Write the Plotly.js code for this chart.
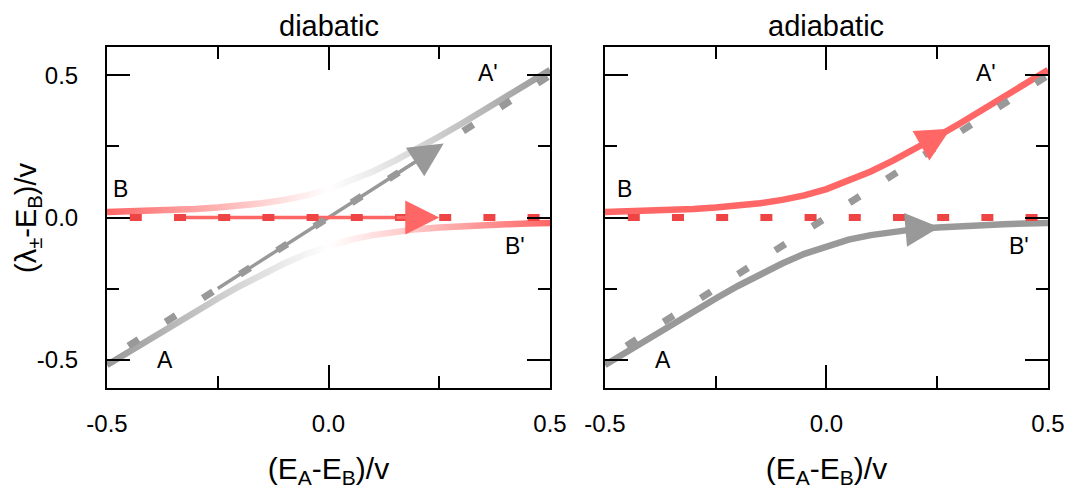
<!DOCTYPE html>
<html>
<head>
<meta charset="utf-8">
<script src="https://cdn.plot.ly/plotly-3.0.1.min.js"></script>
<style>
  html, body { margin: 0; padding: 0; background: #fff; }
  #chart { width: 1071px; height: 495px; }
</style>
</head>
<body>
<div id="chart"></div>
<script>
// Detuning (E_A - E_B)/v
const detuning = [-0.5, -0.45, -0.4, -0.35, -0.3, -0.25, -0.2, -0.15, -0.1, -0.05, 0,
                  0.05, 0.1, 0.15, 0.2, 0.25, 0.3, 0.35, 0.4, 0.45, 0.5];
// Adiabatic levels (λ± - E_B)/v
const upperLevel = [0.019, 0.021, 0.024, 0.027, 0.030, 0.035, 0.041, 0.050, 0.062, 0.078, 0.100,
                    0.128, 0.162, 0.200, 0.241, 0.285, 0.330, 0.377, 0.424, 0.471, 0.519];
const lowerLevel = [-0.519, -0.471, -0.424, -0.377, -0.330, -0.285, -0.241, -0.200, -0.162, -0.128, -0.100,
                    -0.078, -0.062, -0.050, -0.041, -0.035, -0.030, -0.027, -0.024, -0.021, -0.019];
// Diabatic levels
const diabaticX = [-0.5, 0.5];
const diabaticA = [-0.5, 0.5];
const diabaticB = [0, 0];
// Fast passage: the system follows the diabatic states
const passAx = [-0.25, 0.2];
const passAy = [-0.25, 0.2];
const passBx = [-0.34, 0.2];
const passBy = [0, 0];
// Arrow heads, [tail, tip]
const arrowDiaAx = [0.16, 0.26], arrowDiaAy = [0.16, 0.26];
const arrowDiaBx = [0.15, 0.25], arrowDiaBy = [0, 0];
const arrowAdiUx = [0.2, 0.28], arrowAdiUy = [0.241, 0.312];
const arrowAdiLx = [0.2, 0.255], arrowAdiLy = [-0.041, -0.034];
// Axis ticks
const tickVals = [-0.5, 0, 0.5];
const tickText = ['-0.5', '0.0', '0.5'];
const minorVals = [-0.25, 0.25];
// State labels
const stateText = ['A', "A'", 'B', "B'"];
const stateXLeft = [-0.37, 0.36, -0.47, 0.42];
const stateXRight = [-0.37, 0.36, -0.455, 0.435];
const stateY = [-0.5, 0.51, 0.10, -0.10];

const RED = '#ff6666';
const RED_DASH = '#ee4444';
const GRAY = '#999999';
const FONT = 'Liberation Sans, Arial, Helvetica, sans-serif';

const dashB = '0px,22.8px,12px,9.4px';
const dashA = '0px,25.4px,12px,6.8px';

function line(x, y, xa, ya, color, width, dash, uid) {
  const t = { x, y, xaxis: xa, yaxis: ya, mode: 'lines', hoverinfo: 'skip',
              line: { color, width, dash: dash || 'solid' } };
  if (uid) t.uid = uid;
  return t;
}

const traces = [
  // diabatic panel
  line(detuning, upperLevel, 'x', 'y', RED, 6.5, null, 'fadeUpper'),
  line(detuning, lowerLevel, 'x', 'y', GRAY, 6.5, null, 'fadeLower'),
  line(passAx, passAy, 'x', 'y', GRAY, 3.5),
  line(passBx, passBy, 'x', 'y', RED, 3.5),
  line(diabaticX, diabaticA, 'x', 'y', GRAY, 7, dashA),
  line(diabaticX, diabaticB, 'x', 'y', RED_DASH, 7, dashB),
  // adiabatic panel
  line(detuning, upperLevel, 'x2', 'y2', RED, 6.5),
  line(detuning, lowerLevel, 'x2', 'y2', GRAY, 6.5),
  line(diabaticX, diabaticA, 'x2', 'y2', GRAY, 7, dashA),
  line(diabaticX, diabaticB, 'x2', 'y2', RED_DASH, 7, dashB)
];

const minorTicks = { tickmode: 'array', tickvals: minorVals, ticks: 'inside', ticklen: 12,
                     tickwidth: 2, tickcolor: '#000', showgrid: false };
function xAxis(domain, anchor) {
  return {
    domain, anchor, range: [-0.5, 0.5], fixedrange: true,
    showline: true, linewidth: 2, linecolor: '#000', mirror: 'ticks',
    ticks: 'inside', ticklen: 23, tickwidth: 2, tickcolor: '#000',
    tickmode: 'array', tickvals: tickVals, ticktext: tickText,
    tickfont: { size: 24, color: '#000' }, ticklabelstandoff: 13,
    showgrid: false, zeroline: false, minor: minorTicks,
    title: { text: '(E<sub>A</sub>-E<sub>B</sub>)/v', font: { size: 30, color: '#000' }, standoff: 22 }
  };
}
function yAxis(anchor, labels) {
  return {
    anchor, range: [-0.6, 0.6], fixedrange: true,
    showline: true, linewidth: 2, linecolor: '#000', mirror: 'ticks',
    ticks: 'inside', ticklen: 23, tickwidth: 2, tickcolor: '#000',
    tickmode: 'array', tickvals: tickVals, ticktext: tickText,
    tickfont: { size: 24, color: '#000' }, ticklabelstandoff: 22,
    showticklabels: labels,
    showgrid: false, zeroline: false, minor: minorTicks
  };
}

const annotations = [
  { text: 'diabatic', xref: 'x domain', yref: 'paper', x: 0.5, y: 1.062, showarrow: false,
    xanchor: 'center', yanchor: 'middle', font: { size: 29 } },
  { text: 'adiabatic', xref: 'x2 domain', yref: 'paper', x: 0.5, y: 1.062, showarrow: false,
    xanchor: 'center', yanchor: 'middle', font: { size: 29 } },
  // energy axis title
  { text: '(λ<sub>±</sub>-E<sub>B</sub>)/v', textangle: -90, xref: 'paper', yref: 'y domain',
    x: -0.0845, y: 0.5, showarrow: false, xanchor: 'center', yanchor: 'middle', font: { size: 29 } }
];
stateText.forEach((t, i) => {
  annotations.push({ text: t, xref: 'x', yref: 'y', x: stateXLeft[i], y: stateY[i], showarrow: false,
                     xanchor: 'center', yanchor: 'middle', font: { size: 23 } });
  annotations.push({ text: t, xref: 'x2', yref: 'y2', x: stateXRight[i], y: stateY[i], showarrow: false,
                     xanchor: 'center', yanchor: 'middle', font: { size: 23 } });
});
// Direction arrows along each path
function arrowHead(xs, ys, xa, ya, color, width) {
  annotations.push({ xref: xa, yref: ya, axref: xa, ayref: ya,
                     x: xs[1], y: ys[1], ax: xs[0], ay: ys[0], text: '',
                     showarrow: true, arrowhead: 2, arrowwidth: width, arrowsize: 6.8 / width,
                     standoff: 0, arrowcolor: color });
}
arrowHead(arrowDiaAx, arrowDiaAy, 'x', 'y', GRAY, 3);
arrowHead(arrowDiaBx, arrowDiaBy, 'x', 'y', RED, 3);
arrowHead(arrowAdiUx, arrowAdiUy, 'x2', 'y2', RED, 3);
arrowHead(arrowAdiLx, arrowAdiLy, 'x2', 'y2', GRAY, 3);

const layout = {
  width: 1071, height: 495,
  margin: { l: 107, r: 23, t: 47, b: 107 },
  paper_bgcolor: '#fff', plot_bgcolor: '#fff',
  font: { family: FONT, color: '#000' },
  showlegend: false,
  xaxis: xAxis([0, 0.4708], 'y'),
  yaxis: yAxis('x', true),
  xaxis2: xAxis([0.5292, 1], 'y2'),
  yaxis2: yAxis('x2', false),
  annotations
};

// Colour fades along the diabatic-panel adiabatic levels (red -> white -> gray and back)
const fades = [
  { uid: 'fadeUpper', id: 'fadeUpperGrad', stops: [[0, 'rgb(255,102,102)'], [0.5, '#ffffff'], [1, 'rgb(153,153,153)']] },
  { uid: 'fadeLower', id: 'fadeLowerGrad', stops: [[0, 'rgb(153,153,153)'], [0.5, '#ffffff'], [1, 'rgb(255,102,102)']] }
];
function paintFades(gd) {
  const NS = 'http://www.w3.org/2000/svg';
  const svg = gd.querySelector('svg.main-svg');
  let defs = svg.querySelector('defs');
  if (!defs) { defs = document.createElementNS(NS, 'defs'); svg.insertBefore(defs, svg.firstChild); }
  fades.forEach(f => {
    if (!document.getElementById(f.id)) {
      const g = document.createElementNS(NS, 'linearGradient');
      g.setAttribute('id', f.id);
      g.setAttribute('x1', '0'); g.setAttribute('y1', '0');
      g.setAttribute('x2', '1'); g.setAttribute('y2', '0');
      f.stops.forEach(([o, c]) => {
        const s = document.createElementNS(NS, 'stop');
        s.setAttribute('offset', o);
        s.setAttribute('stop-color', c);
        g.appendChild(s);
      });
      defs.appendChild(g);
    }
  });
  gd.querySelectorAll('.scatterlayer .trace').forEach(el => {
    const d = el.__data__;
    const uid = d && d[0] && d[0].trace && d[0].trace.uid;
    const f = fades.find(ff => ff.uid === uid);
    if (f) el.querySelectorAll('path.js-line').forEach(p => { p.style.stroke = 'url(#' + f.id + ')'; });
  });
}

const gd = document.getElementById('chart');
Plotly.newPlot(gd, traces, layout, { displayModeBar: false, staticPlot: true }).then(() => {
  paintFades(gd);
  gd.on('plotly_afterplot', () => paintFades(gd));
});
</script>
</body>
</html>
